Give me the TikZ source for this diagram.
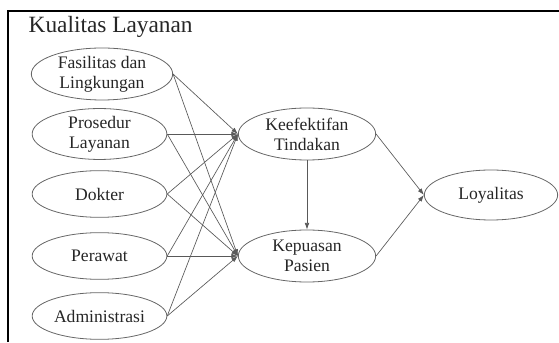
\documentclass[tikz,border=0pt]{standalone}
\usepackage{fontspec}
\setmainfont{Liberation Serif}
\usetikzlibrary{shapes.geometric,arrows.meta}

\tikzset{
  var/.style={ellipse, draw=black!60, line width=0.6pt, text=black!85,
    align=center, inner sep=0pt, minimum width=101pt, minimum height=35pt,
    font=\fontsize{13.2}{15}\selectfont},
  path/.style={draw=black!65, line width=0.5pt, -{Latex[length=5pt,width=3.5pt]}}
}

\begin{document}
\begin{tikzpicture}[x=0.75pt, y=0.75pt]

  \useasboundingbox (0,0) rectangle (559,342);
  \draw[line width=1.5pt] (8,0) -- (8,331) -- (562,331);

	\node[anchor=west, text=black!85, font=\fontsize{17.5}{19}\selectfont] at (24,315) (title) {Kualitas Layanan};

  % dimensi kualitas layanan
	\node[var, minimum width=106pt, minimum height=39pt] at (102,268) (fas) {Fasilitas dan\\Lingkungan};
	\node[var] at (99.5,208) (pro) {Prosedur\\Layanan};
	\node[var] at (99.5,148) (dok) {Dokter};
	\node[var] at (99.5,86) (per) {Perawat};
	\node[var] at (99.5,26) (adm) {Administrasi};

  % variabel antara dan akhir
	\node[var, minimum width=103pt, minimum height=39pt] at (307,208) (kef) {Keefektifan\\Tindakan};
	\node[var, minimum width=103pt, minimum height=39pt] at (307,86) (kep) {Kepuasan\\Pasien};
	\node[var, minimum width=100pt, minimum height=37.5pt] at (491,147) (loy) {Loyalitas};

	\draw[path] (fas.east) -- (kef.west);
	\draw[path] (fas.east) -- (kep.west);
	\draw[path] (pro.east) -- (kef.west);
	\draw[path] (pro.east) -- (kep.west);
	\draw[path] (dok.east) -- (kef.west);
	\draw[path] (dok.east) -- (kep.west);
	\draw[path] (per.east) -- (kef.west);
	\draw[path] (per.east) -- (kep.west);
	\draw[path] (adm.east) -- (kef.west);
	\draw[path] (adm.east) -- (kep.west);

	\draw[path] (kef.south) -- (kep.north);
	\draw[path] (kef.east) -- (loy.west);
	\draw[path] (kep.east) -- (loy.west);

\end{tikzpicture}
\end{document}
